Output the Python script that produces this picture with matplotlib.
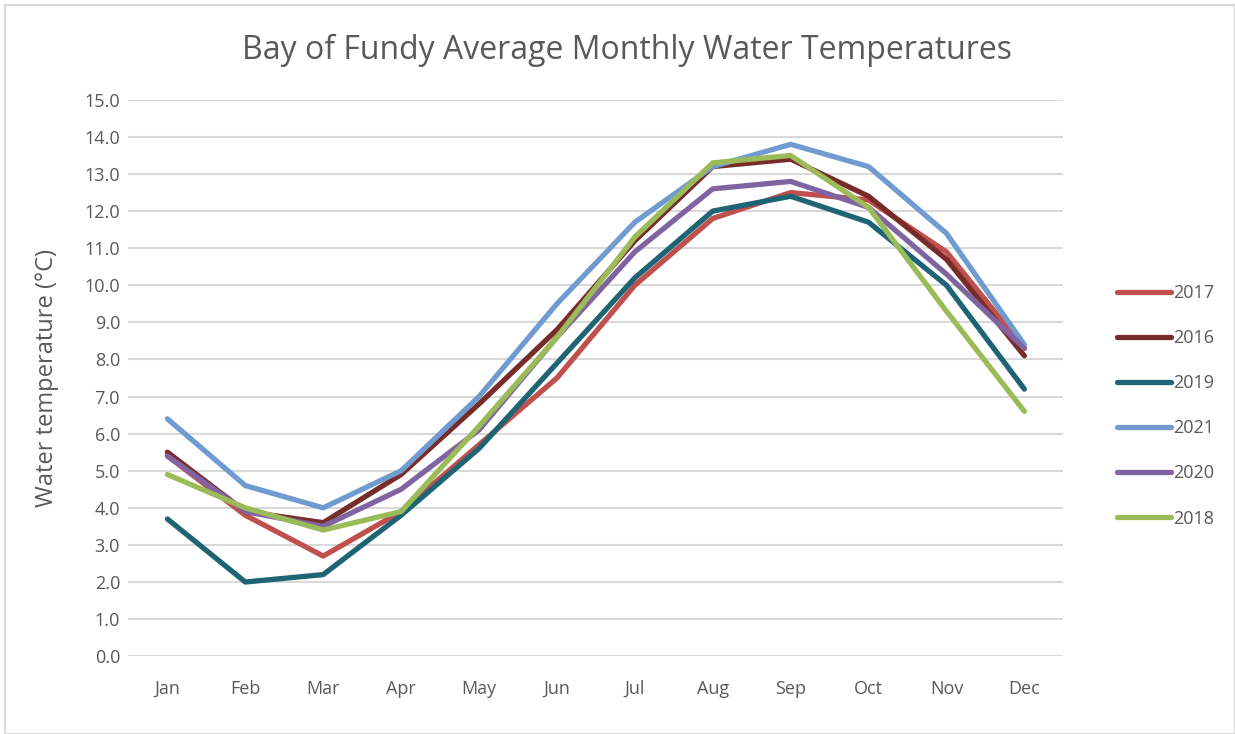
import matplotlib.pyplot as plt
from matplotlib.patches import Rectangle

plt.rcParams['font.family'] = ['Open Sans', 'DejaVu Sans']

months = ["Jan", "Feb", "Mar", "Apr", "May", "Jun", "Jul", "Aug", "Sep", "Oct", "Nov", "Dec"]

# series in legend order
years = ["2017", "2016", "2019", "2021", "2020", "2018"]
t2017 = [5.4, 3.8, 2.7, 3.9, 5.7, 7.5, 10.0, 11.8, 12.5, 12.3, 10.9, 8.3]
t2016 = [5.5, 3.9, 3.6, 4.9, 6.8, 8.8, 11.2, 13.2, 13.4, 12.4, 10.7, 8.1]
t2019 = [3.7, 2.0, 2.2, 3.8, 5.6, 7.9, 10.2, 12.0, 12.4, 11.7, 10.0, 7.2]
t2021 = [6.4, 4.6, 4.0, 5.0, 7.0, 9.5, 11.7, 13.2, 13.8, 13.2, 11.4, 8.4]
t2020 = [5.4, 3.9, 3.5, 4.5, 6.1, 8.6, 10.9, 12.6, 12.8, 12.1, 10.3, 8.3]
t2018 = [4.9, 4.0, 3.4, 3.9, 6.2, 8.6, 11.3, 13.3, 13.5, 12.1, 9.3, 6.6]
series = [t2017, t2016, t2019, t2021, t2020, t2018]
colors = ["#C0504D", "#772C2A", "#1F6474", "#6F9BD1", "#8064A2", "#9BBB59"]

text_col = "#595959"

fig = plt.figure(figsize=(12.35, 7.34), dpi=100)
ax = fig.add_axes([0.104, 0.106, 0.757, 0.758])

x = list(range(len(months)))
for yr, vals, c in zip(years, series, colors):
    ax.plot(x, vals, color=c, linewidth=3.8, label=yr, solid_capstyle='round')

ax.set_xlim(-0.5, 11.5)
ax.set_ylim(0, 15)
ax.set_yticks([i for i in range(16)])
ax.set_yticklabels([f"{i:.1f}" for i in range(16)])
ax.set_xticks(x)
ax.set_xticklabels(months)
ax.tick_params(axis='both', length=0, labelsize=13, colors=text_col)
ax.tick_params(axis='x', pad=17)
ax.tick_params(axis='y', pad=6)
ax.grid(axis='y', color="#D9D9D9", linewidth=1.5)
ax.set_axisbelow(True)
for s in ax.spines.values():
    s.set_visible(False)

ax.set_ylabel("Water temperature (°C)", fontsize=17, color=text_col, labelpad=18)
fig.text(0.508, 0.932, "Bay of Fundy Average Monthly Water Temperatures",
         ha='center', va='center', fontsize=23, color=text_col)

leg = ax.legend(loc='center left', bbox_to_anchor=(1.04, 0.45), frameon=False,
                fontsize=13, labelspacing=1.5, handlelength=3.0, handletextpad=0.1,
                labelcolor=text_col)

fig.patches.append(Rectangle((0.004, 0.0), 0.996, 0.993, transform=fig.transFigure,
                             fill=False, edgecolor="#D9D9D9", linewidth=1.5))

fig.savefig("out.png", dpi=100)
